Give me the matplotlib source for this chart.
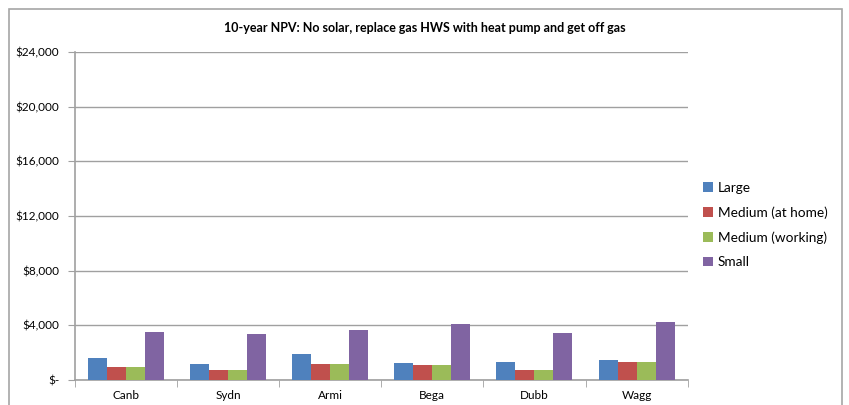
import numpy as np
import matplotlib.pyplot as plt
from matplotlib.patches import Rectangle
from matplotlib.ticker import FuncFormatter

plt.rcParams["font.family"] = ["Lato", "DejaVu Sans"]

# Дані з графіка
towns = ["Canb", "Sydn", "Armi", "Bega", "Dubb", "Wagg"]
large = [1600, 1190, 1915, 1240, 1285, 1480]
medium_home = [920, 700, 1140, 1090, 750, 1333]
medium_working = [920, 700, 1140, 1090, 750, 1333]
small = [3540, 3390, 3640, 4120, 3420, 4220]

series = [
    ("Large", large, "#4F81BD"),
    ("Medium (at home)", medium_home, "#C0504D"),
    ("Medium (working)", medium_working, "#9BBB59"),
    ("Small", small, "#8064A2"),
]

fig = plt.figure(figsize=(8.49, 4.05), dpi=100)
ax = fig.add_axes([0.088, 0.062, 0.722, 0.81])

# Рамка навколо всієї діаграми
fig.patches.append(Rectangle((9 / 849, -0.1), 833 / 849, 1.1 - 9 / 405,
                             transform=fig.transFigure, fill=False,
                             edgecolor="#A6A6A6", linewidth=1.2))

x = np.arange(len(towns))
width = 0.186
for i, (name, vals, color) in enumerate(series):
    ax.bar(x + (i - 1.5) * width, vals, width, color=color, label=name, zorder=3)

ax.set_xlim(-0.5, len(towns) - 0.5)
ax.set_ylim(0, 24000)
ax.set_yticks(np.arange(0, 24001, 4000))
ax.yaxis.set_major_formatter(FuncFormatter(lambda v, _: "$-" if v == 0 else f"${v:,.0f}"))
ax.yaxis.grid(True, color="#A0A0A0", linewidth=1, zorder=0)

ax.set_xticks(x)
ax.set_xticklabels(towns)
ax.set_xticks(np.arange(-0.5, len(towns)), minor=True)
ax.tick_params(axis="x", which="major", length=0, labelsize=8.5, pad=7)
ax.tick_params(axis="x", which="minor", length=5, color="#A0A0A0")
ax.tick_params(axis="y", length=5, color="#A0A0A0", labelsize=8.5, pad=6)

for side in ["top", "right"]:
    ax.spines[side].set_visible(False)
for side in ["left", "bottom"]:
    ax.spines[side].set_color("#A0A0A0")
    ax.spines[side].set_linewidth(1.2)

fig.text(0.5, 0.93, "10-year NPV: No solar, replace gas HWS with heat pump and get off gas",
         ha="center", va="center", fontsize=9, fontweight="bold")

ax.legend(loc="center left", bbox_to_anchor=(1.005, 0.472), frameon=False,
          fontsize=9.8, handlelength=0.7, handleheight=0.7, handletextpad=0.4,
          labelspacing=0.92)

fig.savefig("out.png", dpi=100)
